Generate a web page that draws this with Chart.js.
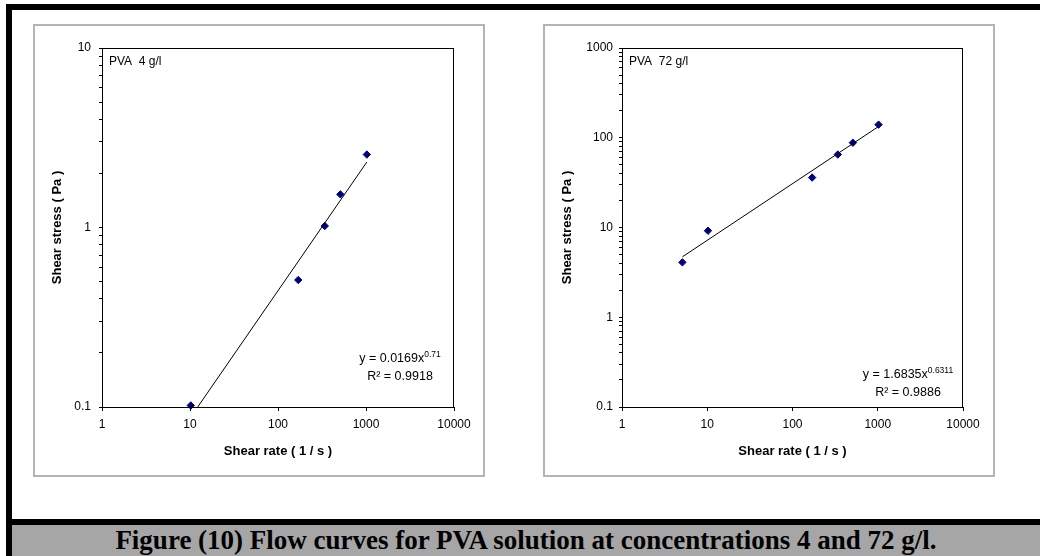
<!DOCTYPE html>
<html>
<head>
<meta charset="utf-8">
<title>Flow curves for PVA solution</title>
<script src="https://cdn.jsdelivr.net/npm/chart.js@4.4.1/dist/chart.umd.min.js"></script>
<style>
  body { margin: 0; width: 1040px; height: 556px; background: #fff; position: relative; overflow: hidden; }
  .bar { position: absolute; background: #000; }
  .box { position: absolute; top: 24px; width: 448px; height: 449px; border: 2px solid #b4b4b4; background: #fff; }
  .box canvas { display: block; }
  .caption {
    position: absolute; left: 12px; top: 525px; width: 1028px; height: 31px;
    background: #a6a6a6; text-align: center; line-height: 31px; white-space: nowrap;
    font: bold 27px "Liberation Serif", "Times New Roman", serif; color: #000;
  }
</style>
</head>
<body>
<div class="bar" style="left:6px;top:4px;width:1034px;height:6px"></div>
<div class="bar" style="left:6px;top:4px;width:6px;height:552px"></div>
<div class="bar" style="left:6px;top:519px;width:1034px;height:6px"></div>

<div class="box" style="left:33px"><canvas id="chart4" width="448" height="449"></canvas></div>
<div class="box" style="left:543px"><canvas id="chart72" width="448" height="449"></canvas></div>

<div class="caption">Figure (10) Flow curves for PVA solution at concentrations 4 and 72 g/l.</div>

<script>
// shear rate (1/s) and shear stress (Pa)
const rate4 = [10.2, 170, 340, 511, 1022];
const stress4 = [0.102, 0.51, 1.02, 1.53, 2.55];
const rate72 = [5.11, 10.2, 170, 340, 511, 1022];
const stress72 = [4.09, 9.2, 36, 65, 88, 140];

const rateTicks = [1, 10, 100, 1000, 10000];
const stressTicks4 = [0.1, 1, 10];
const stressTicks72 = [0.1, 1, 10, 100, 1000];

// power trend lines y = a * x^b, as printed on the charts
const fit4 = [0.0169, 0.71];
const fit72 = [1.6835, 0.6311];
const r2Text4 = '0.9918';
const r2Text72 = '0.9886';

const FONT = '"Liberation Sans", Arial, sans-serif';

// decades plus the 2..9 minor marks in between
function logTicks(decades) {
  const out = [];
  decades.forEach((d, i) => {
    if (i === decades.length - 1) { out.push(d); return; }
    for (let n = 1; n <= 9; n++) out.push(n === 1 ? d : Number((d * n).toPrecision(3)));
  });
  return out;
}

const plotBox = {
  id: 'plotBox',
  afterDatasetsDraw(chart, args, opts) {
    const { ctx, chartArea: a } = chart;
    ctx.save();
    ctx.strokeStyle = '#000';
    ctx.lineWidth = 1;
    ctx.strokeRect(Math.round(a.left) + 0.5, Math.round(a.top) + 0.5,
      Math.round(a.right - a.left) - 1, Math.round(a.bottom - a.top));

    ctx.fillStyle = '#000';
    ctx.textBaseline = 'middle';
    ctx.font = '12px ' + FONT;
    ctx.textAlign = 'left';
    ctx.fillText(opts.name, a.left + 7, a.top + 14);

    // equation with superscript exponent, block centred
    const cx = a.right - opts.dx;
    const y1 = opts.y;
    const main = 'y = ' + opts.coef + 'x';
    const big = '12.5px ' + FONT, small = '8.5px ' + FONT;
    ctx.font = big;
    const wMain = ctx.measureText(main).width;
    ctx.font = small;
    const wSup = ctx.measureText(opts.exp).width;
    const x0 = cx - (wMain + wSup) / 2;
    ctx.font = big;
    ctx.fillText(main, x0, y1);
    ctx.font = small;
    ctx.fillText(opts.exp, x0 + wMain, y1 - 4);
    ctx.font = big;
    ctx.textAlign = 'center';
    ctx.fillText('R\u00B2 = ' + opts.r2, cx, y1 + 18);
    ctx.restore();
  }
};

function makeChart(id, rates, stresses, decades, fit, opts) {
  const points = rates.map((x, i) => ({ x, y: stresses[i] }));
  const x0 = rates[0], x1 = rates[rates.length - 1];
  const trend = [
    { x: x0, y: fit[0] * Math.pow(x0, fit[1]) },
    { x: x1, y: fit[0] * Math.pow(x1, fit[1]) }
  ];
  const yTicks = logTicks(decades);

  return new Chart(document.getElementById(id), {
    type: 'scatter',
    data: {
      datasets: [
        {
          data: trend,
          showLine: true,
          borderColor: '#000',
          borderWidth: 1,
          pointRadius: 0,
        },
        {
          data: points,
          pointStyle: 'rectRot',
          pointRadius: 3.7,
          pointBackgroundColor: '#000080',
          pointBorderColor: '#000080',
          pointBorderWidth: 1,
          clip: false,
        },
      ],
    },
    options: {
      responsive: false,
      animation: false,
      events: [],
      layout: { padding: { top: 22, right: opts.padRight, left: 0, bottom: 0 } },
      plugins: {
        legend: { display: false },
        tooltip: { enabled: false },
        plotBox: opts.text,
      },
      scales: {
        x: {
          type: 'logarithmic',
          min: 1,
          max: 10000,
          afterBuildTicks: s => { s.ticks = rateTicks.map(v => ({ value: v })); },
          afterFit: s => { s.height = 68; },
          ticks: {
            autoSkip: false, maxRotation: 0, color: '#000', padding: 6,
            font: { family: FONT, size: 12 },
            callback: v => String(v),
          },
          grid: { drawOnChartArea: false, tickLength: 4, tickColor: '#000', color: '#000' },
          border: { color: '#000', width: 1 },
          title: {
            display: true, text: 'Shear rate ( 1 / s )', color: '#000',
            font: { family: FONT, size: 13, weight: 'bold' },
            padding: { top: 0, bottom: 16 },
          },
        },
        y: {
          type: 'logarithmic',
          min: decades[0],
          max: decades[decades.length - 1],
          afterBuildTicks: s => { s.ticks = yTicks.map(v => ({ value: v })); },
          afterFit: s => { s.width = opts.axisWidth; },
          ticks: {
            autoSkip: false, color: '#000', padding: opts.tickPad,
            font: { family: FONT, size: 12 },
            callback: v => (decades.includes(v) ? String(v) : ''),
          },
          grid: { drawOnChartArea: false, tickLength: 3, tickColor: '#000', color: '#000' },
          border: { color: '#000', width: 1 },
          title: {
            display: true, text: 'Shear stress ( Pa )', color: '#000',
            font: { family: FONT, size: 13, weight: 'bold' },
            padding: { top: 15, bottom: 0 },
          },
        },
      },
    },
    plugins: [plotBox],
  });
}

makeChart('chart4', rate4, stress4, stressTicks4, fit4, {
  axisWidth: 67, padRight: 29, tickPad: 8,
  text: { name: 'PVA  4 g/l', coef: '0.0169', exp: '0.71', r2: r2Text4, dx: 54, y: 333 },
});

makeChart('chart72', rate72, stress72, stressTicks72, fit72, {
  axisWidth: 77, padRight: 30, tickPad: 6,
  text: { name: 'PVA  72 g/l', coef: '1.6835', exp: '0.6311', r2: r2Text72, dx: 55, y: 349 },
});
</script>
</body>
</html>
